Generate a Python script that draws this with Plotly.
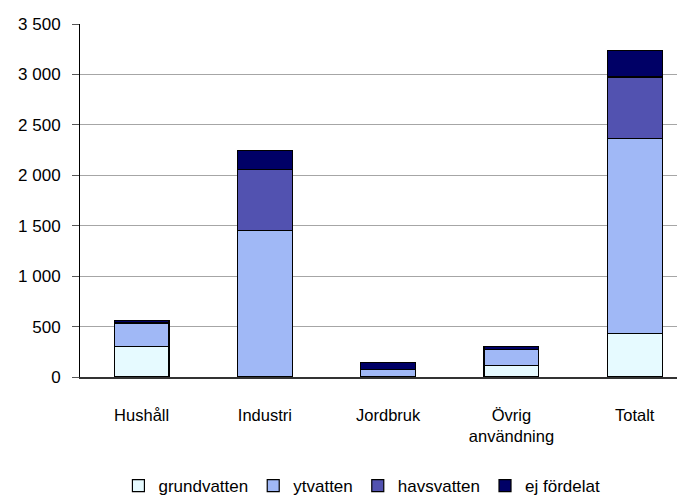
import plotly.graph_objects as go

categories = ["Hushåll", "Industri", "Jordbruk", "Övrig<br>användning", "Totalt"]
series_names = ["grundvatten", "ytvatten", "havsvatten", "ej fördelat"]
grundvatten = [300, 0, 0, 115, 435]
ytvatten = [235, 1450, 75, 160, 1930]
havsvatten = [0, 610, 0, 0, 610]
ej_fordelat = [25, 185, 65, 25, 260]
y_ticks = [0, 500, 1000, 1500, 2000, 2500, 3000, 3500]

colors = ["#E6FAFF", "#A0B8F6", "#5252B0", "#000066"]
FONT = "Liberation Sans, Arial, sans-serif"

fig = go.Figure()
for name, vals, col in zip(series_names, [grundvatten, ytvatten, havsvatten, ej_fordelat], colors):
    fig.add_trace(go.Bar(
        name=name, x=list(range(len(categories))), y=vals,
        marker=dict(color=col, line=dict(color="#000000", width=1.2)),
        width=0.445,
    ))

# page body has an 8px margin, so the figure is offset by (8, 8)
fig.update_layout(
    barmode="stack",
    width=677, height=496,
    margin=dict(l=72, r=0, t=16, b=127, pad=0),
    paper_bgcolor="white", plot_bgcolor="white",
    separators=", ",
    font=dict(family=FONT, size=17, color="black"),
    showlegend=True,
    legend=dict(orientation="h", x=0.466, xanchor="center",
                y=-0.31, yanchor="middle",
                font=dict(size=17), traceorder="normal", itemwidth=30, tracegroupgap=0),
    xaxis=dict(
        tickmode="array", tickvals=list(range(len(categories))), ticktext=categories,
        range=[-0.5, 4.408], showgrid=False, zeroline=False,
        showline=True, linecolor="#333333", linewidth=1.5, ticks="",
        ticklabelstandoff=22, tickfont=dict(size=16.5), automargin=False,
    ),
    yaxis=dict(
        range=[0, 3500], tickvals=y_ticks, tickformat=",d",
        showgrid=True, gridcolor="#A6A6A6", gridwidth=1,
        showline=True, linecolor="#000000", linewidth=1,
        ticks="outside", ticklen=7, tickcolor="#555555",
        zeroline=False, ticklabelstandoff=8, automargin=False,
    ),
)

fig.write_html("out.html")
